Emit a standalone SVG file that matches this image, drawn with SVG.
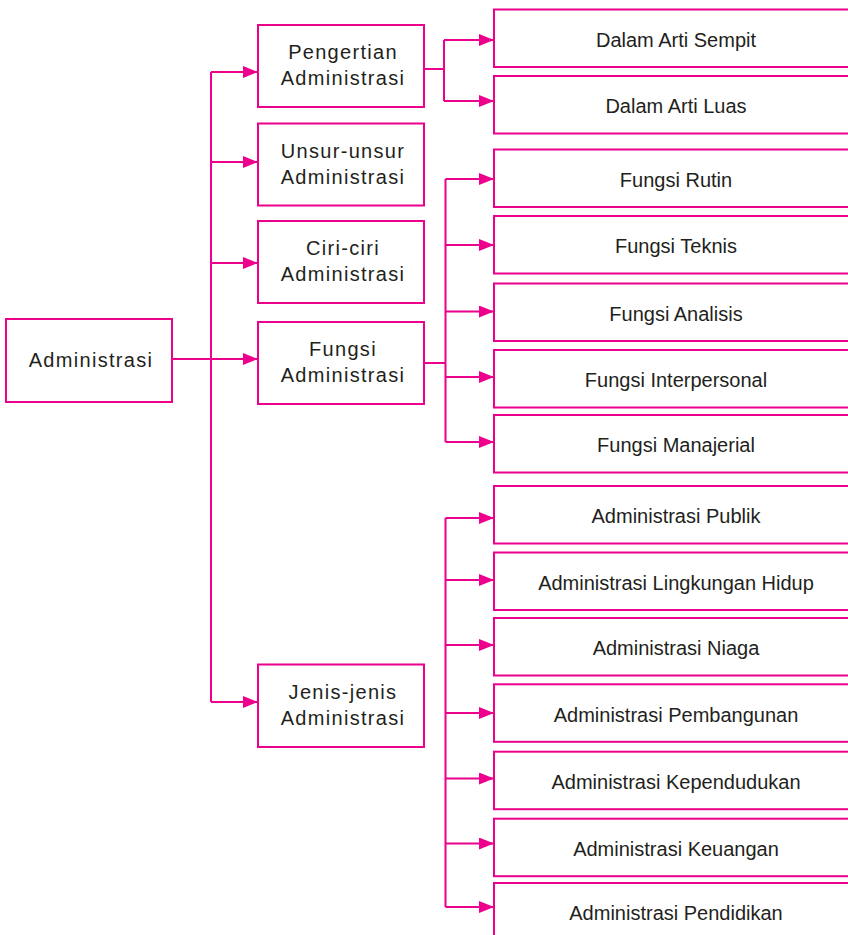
<svg xmlns="http://www.w3.org/2000/svg" width="848" height="935" viewBox="0 0 848 935">
<defs>
<style>
.box{fill:#fff;stroke:#ec008c;stroke-width:2}
.ln{fill:none;stroke:#ec008c;stroke-width:2}
.arr{fill:none;stroke:#ec008c;stroke-width:2;marker-end:url(#ah)}
.t{font-family:"Liberation Sans",Arial,sans-serif;font-size:20px;fill:#231f20;text-anchor:middle}
.ts{letter-spacing:1.3px}
</style>
<marker id="ah" markerUnits="userSpaceOnUse" markerWidth="16" markerHeight="12" refX="15" refY="6" orient="auto">
<path d="M0,0 L15,6 L0,12 z" fill="#ec008c"/>
</marker>
</defs>
<rect width="848" height="935" fill="#fff"/>
<g id="connectors">
<path class="ln" d="M172,359 H211"/>
<path class="ln" d="M211,72 V702"/>
<path class="arr" d="M211,72 H258"/>
<path class="arr" d="M211,162 H258"/>
<path class="arr" d="M211,263 H258"/>
<path class="arr" d="M211,359 H258"/>
<path class="arr" d="M211,702 H258"/>
<path class="ln" d="M424,69 H444 M444,40 V101"/>
<path class="arr" d="M444,40 H494"/>
<path class="arr" d="M444,101 H494"/>
<path class="ln" d="M424,363 H445.5 M445.5,179 V442"/>
<path class="arr" d="M445.5,179 H494"/>
<path class="arr" d="M445.5,245 H494"/>
<path class="arr" d="M445.5,311.5 H494"/>
<path class="arr" d="M445.5,377 H494"/>
<path class="arr" d="M445.5,442 H494"/>
<path class="ln" d="M445.5,518 V907"/>
<path class="arr" d="M445.5,518 H494"/>
<path class="arr" d="M445.5,580 H494"/>
<path class="arr" d="M445.5,645 H494"/>
<path class="arr" d="M445.5,713 H494"/>
<path class="arr" d="M445.5,778.5 H494"/>
<path class="arr" d="M445.5,843.5 H494"/>
<path class="arr" d="M445.5,907 H494"/>
</g>
<g id="n-administrasi"><rect class="box" x="6" y="319" width="166" height="83"/><text class="t ts" x="91" y="367">Administrasi</text></g>
<g id="n-pengertian"><rect class="box" x="258" y="25" width="166" height="82"/><text class="t ts" x="343" y="59">Pengertian</text><text class="t ts" x="343" y="85">Administrasi</text></g>
<g id="n-unsur"><rect class="box" x="258" y="123.5" width="166" height="82"/><text class="t ts" x="343" y="157.5">Unsur-unsur</text><text class="t ts" x="343" y="183.5">Administrasi</text></g>
<g id="n-ciri"><rect class="box" x="258" y="221" width="166" height="82"/><text class="t ts" x="343" y="255">Ciri-ciri</text><text class="t ts" x="343" y="281">Administrasi</text></g>
<g id="n-fungsi"><rect class="box" x="258" y="322" width="166" height="82"/><text class="t ts" x="343" y="355.5">Fungsi</text><text class="t ts" x="343" y="381.5">Administrasi</text></g>
<g id="n-jenis"><rect class="box" x="258" y="664.5" width="166" height="82.5"/><text class="t ts" x="343" y="698.5">Jenis-jenis</text><text class="t ts" x="343" y="724.5">Administrasi</text></g>
<g id="n-sempit"><rect class="box" x="494" y="9.5" width="364" height="57.5"/><text class="t" x="676" y="46.5">Dalam Arti Sempit</text></g>
<g id="n-luas"><rect class="box" x="494" y="76" width="364" height="57.5"/><text class="t" x="676" y="113.3">Dalam Arti Luas</text></g>
<g id="n-rutin"><rect class="box" x="494" y="149.5" width="364" height="57.5"/><text class="t" x="676" y="186.8">Fungsi Rutin</text></g>
<g id="n-teknis"><rect class="box" x="494" y="216" width="364" height="57.5"/><text class="t" x="676" y="253.3">Fungsi Teknis</text></g>
<g id="n-analisis"><rect class="box" x="494" y="283.5" width="364" height="57.5"/><text class="t" x="676" y="320.8">Fungsi Analisis</text></g>
<g id="n-interpersonal"><rect class="box" x="494" y="350" width="364" height="57.5"/><text class="t" x="676" y="387.3">Fungsi Interpersonal</text></g>
<g id="n-manajerial"><rect class="box" x="494" y="415" width="364" height="57.5"/><text class="t" x="676" y="452.3">Fungsi Manajerial</text></g>
<g id="n-publik"><rect class="box" x="494" y="486" width="364" height="57.5"/><text class="t" x="676" y="523.3">Administrasi Publik</text></g>
<g id="n-lingkungan"><rect class="box" x="494" y="552.5" width="364" height="57.5"/><text class="t" x="676" y="589.8">Administrasi Lingkungan Hidup</text></g>
<g id="n-niaga"><rect class="box" x="494" y="618" width="364" height="57.5"/><text class="t" x="676" y="655.3">Administrasi Niaga</text></g>
<g id="n-pembangunan"><rect class="box" x="494" y="684.3" width="364" height="57.5"/><text class="t" x="676" y="721.6">Administrasi Pembangunan</text></g>
<g id="n-kependudukan"><rect class="box" x="494" y="751.7" width="364" height="57.5"/><text class="t" x="676" y="789">Administrasi Kependudukan</text></g>
<g id="n-keuangan"><rect class="box" x="494" y="818.7" width="364" height="57.5"/><text class="t" x="676" y="856">Administrasi Keuangan</text></g>
<g id="n-pendidikan"><rect class="box" x="494" y="883" width="364" height="57.5"/><text class="t" x="676" y="920">Administrasi Pendidikan</text></g>
</svg>
